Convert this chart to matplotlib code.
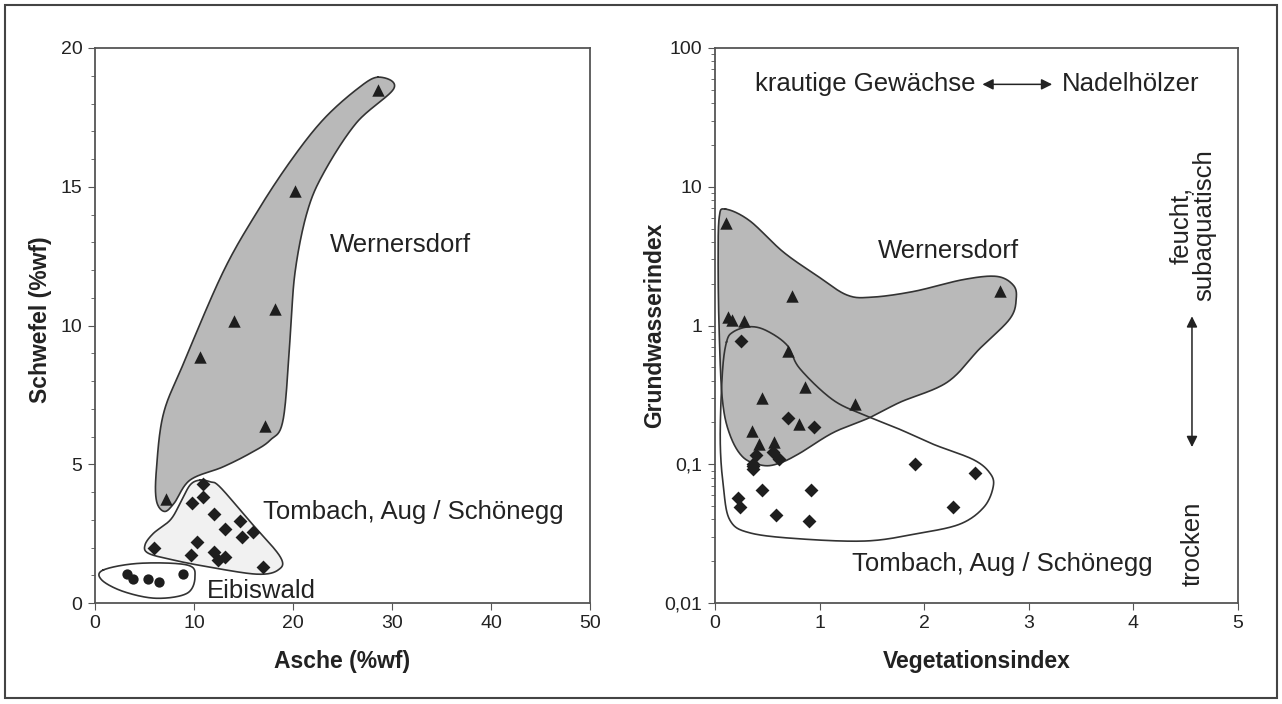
import matplotlib
matplotlib.use('Agg')
import matplotlib.pyplot as plt
import numpy as np
from matplotlib.ticker import FixedLocator, MultipleLocator, LogLocator, NullFormatter

plt.rcParams['font.family'] = ['Liberation Sans', 'DejaVu Sans']

# left panel: Asche vs Schwefel
wer_asche = [28.6, 20.2, 18.2, 14.0, 10.6, 17.2, 7.2]
wer_schwefel = [18.5, 14.86, 10.6, 10.17, 8.88, 6.39, 3.75]
tom_asche = [10.94, 10.94, 9.83, 12.05, 14.65, 13.13, 16.0, 14.85, 10.27, 5.99, 9.66, 12.02, 12.46, 13.13, 17.0]
tom_schwefel = [4.28, 3.83, 3.61, 3.20, 2.97, 2.67, 2.55, 2.37, 2.21, 1.98, 1.72, 1.83, 1.55, 1.65, 1.31]
eib_asche = [3.2, 3.87, 5.39, 6.5, 8.92]
eib_schwefel = [1.04, 0.85, 0.85, 0.76, 1.03]

# left envelopes
env_wer_l = [(28.6, 18.95), (30.2, 18.55), (26.4, 17.3), (23.1, 15.5), (21.4, 14.05), (20.2, 11.9),
             (19.7, 9.5), (19.0, 6.6), (17.7, 5.87), (15.7, 5.4), (12.9, 4.9), (9.6, 4.43),
             (8.0, 3.6), (7.0, 3.3), (6.2, 3.7), (6.2, 4.8), (6.9, 6.8), (8.9, 8.6),
             (12.9, 11.9), (16.3, 14.05), (19.7, 15.9), (23.0, 17.4), (26.4, 18.5)]
env_tom_l = [(10.6, 4.43), (11.6, 4.37), (12.6, 4.19), (15.5, 3.0), (18.7, 1.67), (18.5, 1.19),
             (16.3, 1.04), (11.3, 1.31), (7.9, 1.55), (5.4, 1.79), (5.05, 2.09), (5.9, 2.51),
             (7.6, 2.99), (8.6, 3.59), (9.6, 4.25)]
env_eib_l = [(0.84, 1.19), (4.5, 1.43), (9.3, 1.37), (10.1, 0.95), (9.3, 0.35), (6.2, 0.17),
             (2.9, 0.41), (0.68, 0.83)]

# right panel: Vegetationsindex vs Grundwasserindex
wer_veg = [0.105, 0.74, 0.127, 0.165, 0.28, 0.70, 0.86, 0.446, 1.34, 0.80, 0.35, 0.42, 0.564, 2.72]
wer_gwi = [5.5, 1.64, 1.16, 1.09, 1.07, 0.65, 0.358, 0.30, 0.27, 0.196, 0.173, 0.14, 0.144, 1.76]
tom_veg = [0.245, 0.695, 0.946, 0.39, 0.55, 0.61, 0.36, 0.366, 0.366, 1.91, 2.49, 0.45, 0.92,
           0.22, 0.24, 0.58, 0.90, 2.28]
tom_gwi = [0.77, 0.217, 0.185, 0.117, 0.123, 0.109, 0.097, 0.10, 0.092, 0.101, 0.087, 0.065, 0.065,
           0.057, 0.049, 0.043, 0.039, 0.049]

env_wer_r = [(0.1, 6.9), (0.33, 5.7), (0.65, 3.4), (0.97, 2.3), (1.26, 1.66), (1.5, 1.6),
             (1.9, 1.76), (2.37, 2.14), (2.69, 2.26), (2.85, 1.96), (2.88, 1.57), (2.82, 1.12),
             (2.53, 0.68), (2.22, 0.39), (1.77, 0.28), (1.48, 0.217), (1.13, 0.169), (0.81, 0.12),
             (0.62, 0.102), (0.46, 0.098), (0.27, 0.112), (0.14, 0.165), (0.07, 0.295),
             (0.04, 0.9), (0.03, 2.75), (0.04, 6.0)]
env_tom_r = [(0.11, 0.76), (0.175, 0.9), (0.33, 0.98), (0.49, 0.92), (0.69, 0.72), (0.81, 0.49),
             (1.13, 0.29), (1.45, 0.223), (1.77, 0.178), (2.09, 0.139), (2.47, 0.108), (2.63, 0.086),
             (2.66, 0.069), (2.57, 0.049), (2.34, 0.037), (1.93, 0.0316), (1.45, 0.028), (0.81, 0.029),
             (0.335, 0.032), (0.143, 0.0395), (0.08, 0.069), (0.05, 0.15), (0.07, 0.45)]

y_ticks_r = [0.01, 0.1, 1, 10, 100]
y_labels_r = ['0,01', '0,1', '1', '10', '100']


def smooth_closed(pts, logy=False, n=30):
    P = np.array(pts, dtype=float)
    if logy:
        P[:, 1] = np.log10(P[:, 1])
    N = len(P)
    t = np.linspace(0, 1, n, endpoint=False)[:, None]
    out = []
    for i in range(N):
        p0, p1, p2, p3 = P[i - 1], P[i], P[(i + 1) % N], P[(i + 2) % N]
        out.append(0.5 * (2 * p1 + (-p0 + p2) * t + (2 * p0 - 5 * p1 + 4 * p2 - p3) * t ** 2
                          + (-p0 + 3 * p1 - 3 * p2 + p3) * t ** 3))
    out = np.vstack(out + [out[0][:1]])
    if logy:
        out[:, 1] = 10 ** out[:, 1]
    return out


fig = plt.figure(figsize=(12.82, 7.04), dpi=100)
edge = '#555555'
gray = '#b9b9b9'
ink = '#222222'
fs = 18.5

ax1 = fig.add_axes([95 / 1282, 101 / 704, 495 / 1282, 555 / 704])
c = smooth_closed(env_wer_l)
ax1.fill(c[:, 0], c[:, 1], facecolor=gray, edgecolor='none', zorder=1)
ax1.plot(c[:, 0], c[:, 1], color='#333333', lw=1.2, zorder=3)
c = smooth_closed(env_tom_l)
ax1.fill(c[:, 0], c[:, 1], facecolor='#f1f1f1', edgecolor='none', zorder=2)
ax1.plot(c[:, 0], c[:, 1], color='#333333', lw=1.2, zorder=3)
c = smooth_closed(env_eib_l)
ax1.fill(c[:, 0], c[:, 1], facecolor='white', edgecolor='none', zorder=2)
ax1.plot(c[:, 0], c[:, 1], color='#333333', lw=1.2, zorder=3)
ax1.scatter(wer_asche, wer_schwefel, marker='^', s=80, color='#1e1e1e', zorder=4, linewidths=0)
ax1.scatter(tom_asche, tom_schwefel, marker='D', s=50, color='#1e1e1e', zorder=4, linewidths=0)
ax1.scatter(eib_asche, eib_schwefel, marker='o', s=55, color='#1e1e1e', zorder=4, linewidths=0)
ax1.set_xlim(0, 50)
ax1.set_ylim(0, 20)
ax1.xaxis.set_major_locator(MultipleLocator(10))
ax1.yaxis.set_major_locator(MultipleLocator(5))
ax1.yaxis.set_minor_locator(MultipleLocator(1))
ax1.text(23.7, 12.9, 'Wernersdorf', fontsize=fs, va='center', color=ink)
ax1.text(17.0, 3.28, 'Tombach, Aug / Schönegg', fontsize=fs, va='center', color=ink)
ax1.text(11.3, 0.43, 'Eibiswald', fontsize=fs, va='center', color=ink)
ax1.set_xlabel('Asche (%wf)', fontsize=16.5, fontweight='bold', color=ink, va='center')
ax1.set_ylabel('Schwefel (%wf)', fontsize=16.5, fontweight='bold', color=ink, va='center')
ax1.xaxis.set_label_coords(0.5, -0.106)
ax1.yaxis.set_label_coords(-0.111, 0.51)

ax2 = fig.add_axes([715 / 1282, 101 / 704, 523 / 1282, 555 / 704])
ax2.set_yscale('log')
ct = smooth_closed(env_tom_r, logy=True)
ax2.fill(ct[:, 0], ct[:, 1], facecolor='white', edgecolor='none', zorder=1)
c = smooth_closed(env_wer_r, logy=True)
ax2.fill(c[:, 0], c[:, 1], facecolor=gray, edgecolor='none', zorder=2)
ax2.plot(c[:, 0], c[:, 1], color='#333333', lw=1.2, zorder=3)
ax2.plot(ct[:, 0], ct[:, 1], color='#333333', lw=1.2, zorder=3)
ax2.scatter(wer_veg, wer_gwi, marker='^', s=80, color='#1e1e1e', zorder=4, linewidths=0)
ax2.scatter(tom_veg, tom_gwi, marker='D', s=50, color='#1e1e1e', zorder=4, linewidths=0)
ax2.set_xlim(0, 5)
ax2.set_ylim(0.01, 100)
ax2.xaxis.set_major_locator(MultipleLocator(1))
ax2.yaxis.set_major_locator(FixedLocator(y_ticks_r))
ax2.set_yticklabels(y_labels_r)
ax2.yaxis.set_minor_locator(LogLocator(base=10, subs=np.arange(2, 10)))
ax2.yaxis.set_minor_formatter(NullFormatter())
ax2.text(1.56, 3.45, 'Wernersdorf', fontsize=fs, va='center', color=ink)
ax2.text(1.31, 0.0192, 'Tombach, Aug / Schönegg', fontsize=fs, va='center', color=ink)
ax2.text(2.49, 54.7, 'krautige Gewächse', fontsize=fs, va='center', ha='right', color=ink)
ax2.text(3.32, 54.7, 'Nadelhölzer', fontsize=fs, va='center', ha='left', color=ink)
ax2.annotate('', xy=(2.53, 54.7), xytext=(3.25, 54.7),
             arrowprops=dict(arrowstyle='<|-|>', color=ink, lw=1.1, mutation_scale=16))
ax2.text(4.57, 5.3, 'feucht,\nsubaquatisch', fontsize=fs, va='center', ha='center',
         rotation=90, color=ink, linespacing=0.95)
ax2.annotate('', xy=(4.56, 1.22), xytext=(4.56, 0.127),
             arrowprops=dict(arrowstyle='<|-|>', color=ink, lw=1.1, mutation_scale=16))
ax2.text(4.57, 0.0265, 'trocken', fontsize=fs, va='center', ha='center', rotation=90, color=ink)
ax2.set_xlabel('Vegetationsindex', fontsize=16.5, fontweight='bold', color=ink, va='center')
ax2.set_ylabel('Grundwasserindex', fontsize=16.5, fontweight='bold', color=ink, va='center')
ax2.xaxis.set_label_coords(0.5, -0.106)
ax2.yaxis.set_label_coords(-0.115, 0.5)

for ax in (ax1, ax2):
    for s in ax.spines.values():
        s.set_color(edge)
        s.set_linewidth(1.3)
    ax.tick_params(which='both', direction='out', color=edge, labelsize=14, labelcolor=ink, pad=4)
    ax.tick_params(which='major', length=5)
    ax.tick_params(which='minor', length=3)

fig.add_artist(plt.Rectangle((5 / 1282, 6 / 704), 1272 / 1282, 693 / 704, transform=fig.transFigure,
                             fill=False, edgecolor='#444444', lw=1.5))

fig.savefig('out.png', dpi=100)
